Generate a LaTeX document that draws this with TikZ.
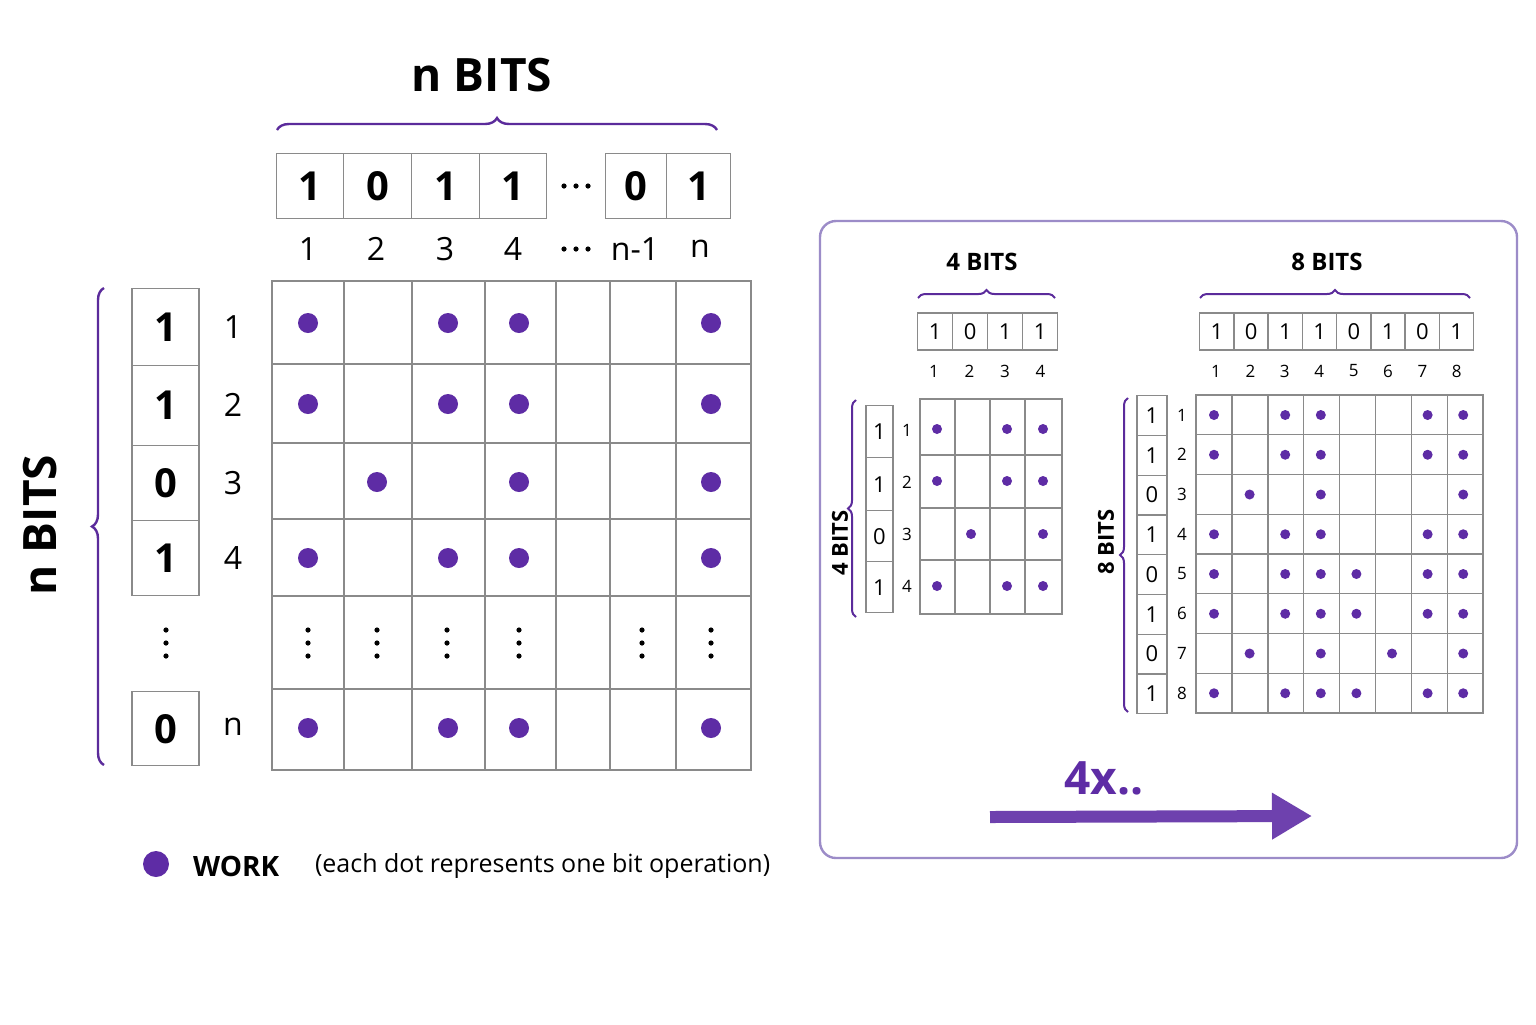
\documentclass[tikz,border=0pt]{standalone}
\usepackage{fontspec}
\setmainfont{Open Sans}
\usetikzlibrary{decorations.pathreplacing,arrows.meta}
\definecolor{pdot}{HTML}{5E2CA5}
\definecolor{pbr}{HTML}{5B2B9B}
\definecolor{panel}{HTML}{9C8CC8}
\definecolor{gl}{HTML}{8A8A8A}
\tikzset{
 gridl/.style={draw=gl,line width=0.7pt},
 bitbox/.style={draw=gl,line width=0.7pt,fill=white},
 bigdot/.style={circle,fill=pdot,inner sep=0pt,minimum size=10pt},
 smdot/.style={circle,fill=pdot,inner sep=0pt,minimum size=5pt},
 vd/.style={circle,fill=black,inner sep=0pt,minimum size=2.6pt},
 brc/.style={draw=pbr,line width=1.2pt,decorate,decoration={brace,amplitude=6pt}},
 bigtxt/.style={font=\bfseries\fontsize{20}{20}\selectfont},
 midtxt/.style={font=\fontsize{16}{16}\selectfont},
 smtxt/.style={font=\fontsize{11}{11}\selectfont},
 tinytxt/.style={font=\fontsize{8.5}{8.5}\selectfont},
}
\begin{document}
\begin{tikzpicture}[x=0.5pt,y=-0.5pt]
\useasboundingbox (0,0) rectangle (1536,1024);
\fill[white] (0,0) rectangle (1536,1024);
% ---------- main ----------
\node[font=\bfseries\fontsize{23}{23}\selectfont] (ntitle) at (482,75) {n BITS};
\draw[brc] (277,130) -- (717,130);
% top bits
\foreach \a/\b/\v/\i in {276/343/1/1,343/411/0/2,411/479/1/3,479/546/1/4,605/666/0/5,666/730/1/6}
  \node[bitbox,bigtxt,minimum width={(\b-\a)*0.5pt},minimum height=32.5pt,anchor=west] (tb\i) at (\a,186) {\v};
\foreach \x/\i in {564,576,588} \node[vd] (hd\i) at (\x,186) {};
\foreach \x/\t/\i in {308/1/1,376/2/2,445/3/3,513/4/4,635/n-1/5,700/n/6}
  \node[midtxt] (cl\i) at (\x,249) {\t};
\foreach \x/\i in {564,576,588} \node[vd] (hl\i) at (\x,249) {};
% grid
\draw[gridl,line width=0.9pt] (272,281) rectangle (751,770);
\foreach \x in {344,412,485,556,610,676} \draw[gridl] (\x,281)--(\x,770);
\foreach \y in {364,443,519,596,689} \draw[gridl] (272,\y)--(751,\y);
\foreach \r/\y/\cols in {1/323/{308,448,519,711},2/404/{308,448,519,711},3/482/{377,519,711},4/558/{308,448,519,711},6/728/{308,448,519,711}}
  \foreach \x in \cols \node[bigdot] (d\r-\x) at (\x,\y) {};
\foreach \x in {308,377,447,519,642,711}
  \foreach \y in {630,643,656} \node[vd] (v\x-\y) at (\x,\y) {};
% left bits
\foreach \a/\b/\v/\i in {288/365/1/1,365/445/1/2,445/520/0/3,520/595/1/4,691/765/0/5}
  \node[bitbox,bigtxt,minimum width=33.5pt,minimum height={(\b-\a)*0.5pt},anchor=north] (lb\i) at (165.5,\a) {\v};
\foreach \y/\i in {630,643,656} \node[vd] (lv\i) at (166,\y) {};
\foreach \y/\t/\i in {327/1/1,405/2/2,483/3/3,558/4/4,727/n/5}
  \node[midtxt] (rl\i) at (233,\y) {\t};
\draw[brc] (104,765) -- (104,288);
\node[font=\bfseries\fontsize{23}{23}\selectfont,rotate=90] (nleft) at (40,525) {n BITS};
% legend
\node[bigdot,minimum size=13pt] (ldot) at (156,864) {};
\node[font=\bfseries\fontsize{14}{14}\selectfont,anchor=west] (lwork) at (186,866) {WORK};
\node[font=\fontsize{12.5}{12.5}\selectfont,anchor=west] (ltext) at (308,866) {(each dot represents one bit operation)};
% ---------- panel ----------
\draw[draw=panel,line width=1.2pt,rounded corners=8pt] (820,221) rectangle (1517,858);
% 4 bits
\node[font=\bfseries\fontsize{12}{12}\selectfont] (f4t) at (982,262) {4 BITS};
\draw[brc,line width=1pt,decoration={amplitude=4pt}] (918,298) -- (1055,298);
\foreach \v [count=\i] in {1,0,1,1}
  \node[bitbox,smtxt,minimum width=17.5pt,minimum height=18.5pt,anchor=west] (ft\i) at ({917+(\i-1)*35},331.5) {\v};
\foreach \t [count=\i] in {1,2,3,4}
  \node[tinytxt] (fc\i) at ({934+(\i-1)*35.5},371) {\t};
\draw[gridl] (920,399) rectangle (1062,614);
\foreach \x in {955,990,1025} \draw[gridl] (\x,399)--(\x,614);
\foreach \y in {455,508,560} \draw[gridl] (920,\y)--(1062,\y);
\foreach \r/\y/\cols in {1/429/{937,1007,1043},2/481/{937,1007,1043},3/534/{971,1043},4/586/{937,1007,1043}}
  \foreach \x in \cols \node[smdot] (fd\r-\x) at (\x,\y) {};
\foreach \a/\b/\v/\i in {405/457/1/1,457/510/1/2,510/561/0/3,561/612/1/4}
  \node[bitbox,smtxt,minimum width=13.5pt,minimum height={(\b-\a)*0.5pt},anchor=north] (fl\i) at (879.5,\a) {\v};
\foreach \y/\i in {430/1,482/2,534/3,586/4} \node[tinytxt] (fr\i) at (907,\y) {\i};
\draw[brc,line width=1pt,decoration={amplitude=4pt}] (856,617) -- (856,400);
\node[font=\bfseries\fontsize{11}{11}\selectfont,rotate=90] (f4l) at (840,543) {4 BITS};
% 8 bits
\node[font=\bfseries\fontsize{12}{12}\selectfont] (e8t) at (1327,262) {8 BITS};
\draw[brc,line width=1pt,decoration={amplitude=4pt}] (1200,298) -- (1470,298);
\foreach \v [count=\i] in {1,0,1,1,0,1,0,1}
  \node[bitbox,smtxt,minimum width=17.1pt,minimum height=18.5pt,anchor=west] (et\i) at ({1199+(\i-1)*34.25},331.5) {\v};
\foreach \i in {1,...,8}
  \node[tinytxt] (ec\i) at ({1216+(\i-1)*34.4},371) {\i};
\draw[gridl] (1196,395) rectangle (1483,713);
\foreach \i in {1,...,7} \draw[gridl] ({1196+\i*35.9},395)--({1196+\i*35.9},713);
\foreach \i in {1,...,7} \draw[gridl] (1196,{395+\i*39.75})--(1483,{395+\i*39.75});
\foreach \r/\cols in {1/{1,3,4,7,8},2/{1,3,4,7,8},3/{2,4,8},4/{1,3,4,7,8},5/{1,3,4,5,7,8},6/{1,3,4,5,7,8},7/{2,4,6,8},8/{1,3,4,5,7,8}}
  \foreach \c in \cols \node[smdot] (ed\r-\c) at ({1214+(\c-1)*35.6},{415+(\r-1)*39.75}) {};
\foreach \v [count=\i] in {1,1,0,1,0,1,0,1}
  \node[bitbox,smtxt,minimum width=15pt,minimum height=19.875pt,anchor=north] (el\i) at (1152,{395+(\i-1)*39.75}) {\v};
\foreach \i in {1,...,8} \node[tinytxt] (er\i) at (1182,{415+(\i-1)*39.75}) {\i};
\draw[brc,line width=1pt,decoration={amplitude=4pt}] (1128,712) -- (1128,398);
\node[font=\bfseries\fontsize{11}{11}\selectfont,rotate=90] (e8l) at (1106,542) {8 BITS};
% arrow
\coordinate (as) at (990,817);
\coordinate (ae) at (1312,816);
\draw[pdot!90!white,line width=6pt,-{Triangle[length=20pt,width=22pt]}] (as) -- (ae);
\node[text=pdot,font=\bfseries\fontsize{23}{23}\selectfont] (fourx) at (1104,778) {4x..};
\end{tikzpicture}
\end{document}
